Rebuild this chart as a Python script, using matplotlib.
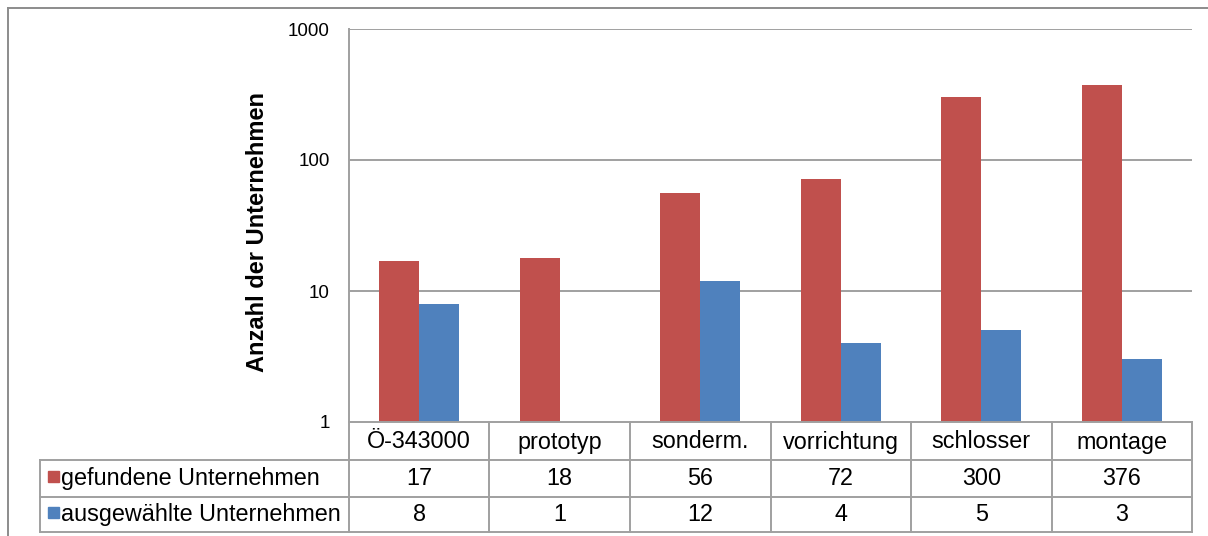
import matplotlib
matplotlib.use("Agg")
import matplotlib.pyplot as plt
from matplotlib.lines import Line2D
from matplotlib.patches import Rectangle
import numpy as np

plt.rcParams['font.family'] = ['Liberation Sans', 'DejaVu Sans']

categories = ["Ö-343000", "prototyp", "sonderm.", "vorrichtung", "schlosser", "montage"]
series_names = ["gefundene Unternehmen", "ausgewählte Unternehmen"]
found = [17, 18, 56, 72, 300, 376]
selected = [8, 1, 12, 4, 5, 3]
yticks = [1, 10, 100, 1000]
ylabel = "Anzahl der Unternehmen"

RED = "#C0504D"
BLUE = "#4F81BD"
GRID = "#A0A0A0"
FRAME = "#8C8C8C"

W, H = 1208, 536
fig = plt.figure(figsize=(W / 100, H / 100), dpi=100)

def fx(px):
    return px / W

def fy(py):
    return 1 - py / H

ax_l, ax_r, ax_t, ax_b = 349, 1192, 29, 422
ax = fig.add_axes([fx(ax_l), fy(ax_b), fx(ax_r) - fx(ax_l), fy(ax_t) - fy(ax_b)])

n = len(categories)
x = np.arange(n) + 0.5
bw = 0.285
ax.bar(x - bw / 2, found, width=bw, color=RED, zorder=3)
ax.bar(x + bw / 2, selected, width=bw, color=BLUE, zorder=3)

ax.set_yscale("log")
ax.set_ylim(1, 1000)
ax.set_xlim(0, n)
ax.set_yticks(yticks)
ax.set_yticklabels([str(t) for t in yticks], fontsize=13.5)
ax.yaxis.set_minor_locator(matplotlib.ticker.NullLocator())
ax.tick_params(axis="y", length=0, pad=14)
ax.set_xticks([])
for y in yticks[1:]:
    ax.axhline(y, color=GRID, lw=1.4, zorder=1)
for s in ["top", "right", "bottom"]:
    ax.spines[s].set_visible(False)
ax.spines["left"].set_color(GRID)
ax.spines["left"].set_linewidth(1.4)
fig.text(fx(257), fy(232), ylabel, rotation=90, ha="center", va="center",
         fontsize=17, fontweight="bold")

# data table below the plot area
row_edges = [422, 460, 497, 532]
leg_l = 40
col_edges = [ax_l + (ax_r - ax_l) * i / n for i in range(n + 1)]

def hline(y, x0, x1):
    fig.add_artist(Line2D([fx(x0), fx(x1)], [fy(y), fy(y)], color=GRID, lw=1.4))

def vline(xp, y0, y1):
    fig.add_artist(Line2D([fx(xp), fx(xp)], [fy(y0), fy(y1)], color=GRID, lw=1.4))

hline(row_edges[0], ax_l, ax_r)
for y in row_edges[1:]:
    hline(y, leg_l, ax_r)
vline(leg_l, row_edges[1], row_edges[3])
vline(ax_l, row_edges[0], row_edges[3])
for xe in col_edges[1:]:
    vline(xe, row_edges[0], row_edges[3])

fs = 16.8
for i, cat in enumerate(categories):
    cx = (col_edges[i] + col_edges[i + 1]) / 2
    fig.text(fx(cx), fy((row_edges[0] + row_edges[1]) / 2 + 1), cat, ha="center", va="center", fontsize=fs)
    fig.text(fx(cx), fy((row_edges[1] + row_edges[2]) / 2), str(found[i]), ha="center", va="center", fontsize=fs)
    fig.text(fx(cx), fy((row_edges[2] + row_edges[3]) / 2), str(selected[i]), ha="center", va="center", fontsize=fs)

for r, (name, col) in enumerate(zip(series_names, [RED, BLUE])):
    cy = (row_edges[r + 1] + row_edges[r + 2]) / 2
    sq = 11
    fig.add_artist(Rectangle((fx(48), fy(cy - 2 + sq / 2)), fx(sq), sq / H, color=col))
    fig.text(fx(61), fy(cy), name, ha="left", va="center", fontsize=fs)

# outer chart frame
fig.add_artist(Line2D([fx(8), fx(W)], [fy(8), fy(8)], color=FRAME, lw=1.4))
fig.add_artist(Line2D([fx(8), fx(8)], [fy(8), fy(H)], color=FRAME, lw=1.4))

fig.savefig("out.png", dpi=100)
